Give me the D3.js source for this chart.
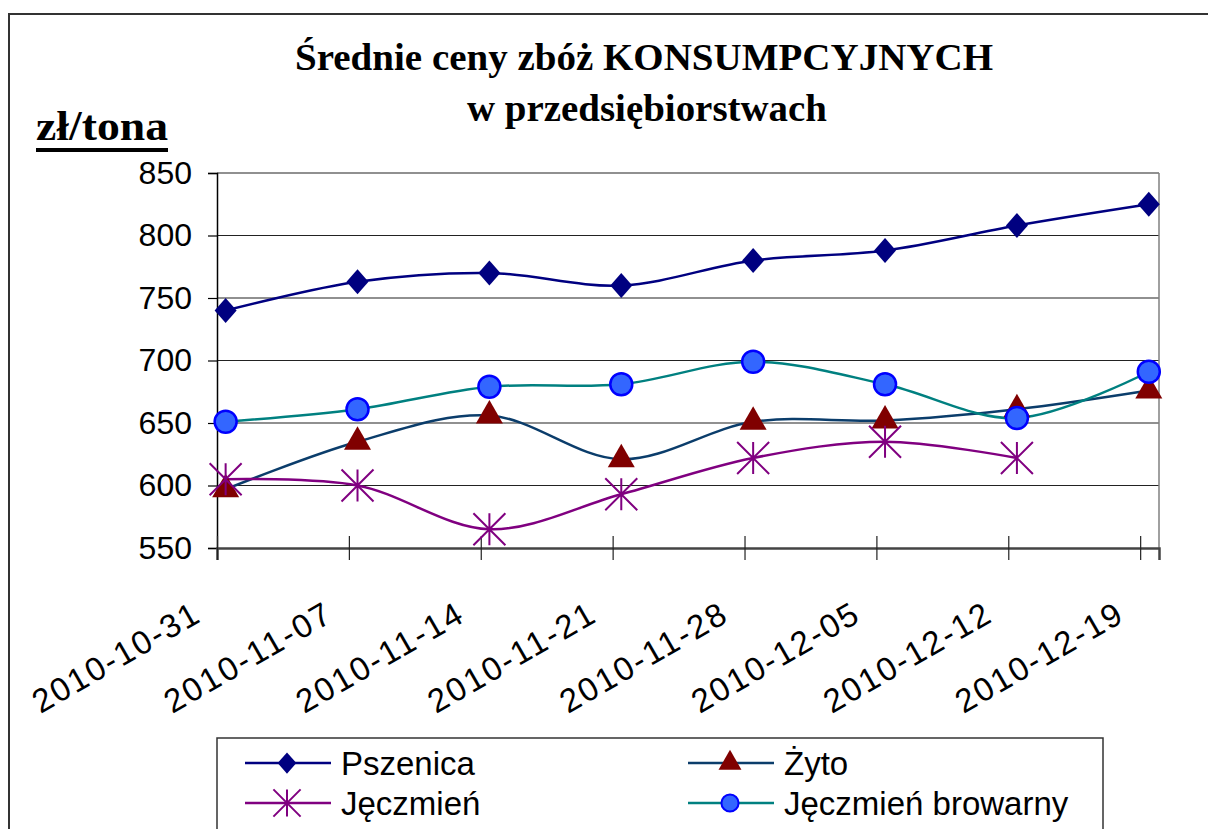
<!DOCTYPE html>
<html>
<head>
<meta charset="utf-8">
<script src="https://cdn.jsdelivr.net/npm/d3@7"></script>
<style>
  body { margin: 0; background: #fff; }
  svg { display: block; }
</style>
</head>
<body>
<div id="chart"></div>
<script>
// data
var dates = ["2010-10-31", "2010-11-07", "2010-11-14", "2010-11-21",
             "2010-11-28", "2010-12-05", "2010-12-12", "2010-12-19"];
var pszenica = [740, 763, 770, 760, 780, 788, 808, 825];
var zyto = [597, 635, 656, 621, 651, 652, 661, 676];
var jeczmien = [605, 600, 565, 593, 622, 635, 622, null];
var jeczmienBrowarny = [651, 661, 679, 681, 699, 681, 654, 691];
var yTicks = [550, 600, 650, 700, 750, 800, 850];
var seriesNames = ["Pszenica", "Żyto", "Jęczmień", "Jęczmień browarny"];

var width = 1208, height = 829;
var plot = {left: 217, right: 1159, top: 173, bottom: 548};

var parse = d3.timeParse("%Y-%m-%d");
var fmt = d3.timeFormat("%Y-%m-%d");
var tickDates = dates.map(parse);
// points sit a little right of the week ticks, like in the original
var pointShiftHours = 11;

var xScale = d3.scaleTime()
    .domain([parse("2010-10-31"), parse("2010-12-20")])
    .range([plot.left, plot.right]);
var yScale = d3.scaleLinear().domain([550, 850]).range([plot.bottom, plot.top]);

var series = [
    {name: seriesNames[0], values: pszenica, line: "#000080", marker: "diamond", fill: "#000080", stroke: "none"},
    {name: seriesNames[1], values: zyto, line: "#0b3d6b", marker: "triangle", fill: "#800000", stroke: "none"},
    {name: seriesNames[2], values: jeczmien, line: "#800080", marker: "star", fill: "none", stroke: "#800080"},
    {name: seriesNames[3], values: jeczmienBrowarny, line: "#008080", marker: "circle", fill: "#3366ff", stroke: "#0000ff"}
];

function markerPath(type, s) {
    // s = scale factor, 1 for plot markers
    var p = d3.path();
    if (type === "diamond") {
        var w = 11 * s, h = 12.5 * s;
        p.moveTo(0, -h); p.lineTo(w, 0); p.lineTo(0, h); p.lineTo(-w, 0); p.closePath();
    } else if (type === "triangle") {
        var hw = 13.5 * s;
        p.moveTo(0, -15.5 * s); p.lineTo(hw, 8 * s); p.lineTo(-hw, 8 * s); p.closePath();
    } else if (type === "star") {
        var r = 16 * s;
        p.moveTo(0, -r); p.lineTo(0, r);
        p.moveTo(-r, -r); p.lineTo(r, r);
        p.moveTo(r, -r); p.lineTo(-r, r);
    } else if (type === "circle") {
        p.arc(0, 0, 11 * s, 0, 2 * Math.PI);
    }
    return p.toString();
}

var svg = d3.select("#chart").append("svg")
    .attr("width", width)
    .attr("height", height);

svg.append("rect").attr("width", width).attr("height", height).attr("fill", "#fff");

// outer chart border (cut off at right and bottom)
svg.append("rect")
    .attr("x", 9).attr("y", 14)
    .attr("width", width + 20).attr("height", height + 20)
    .attr("fill", "none").attr("stroke", "#333").attr("stroke-width", 2);

// title
var title = svg.append("g")
    .attr("font-family", "'Liberation Serif', 'Times New Roman', serif")
    .attr("font-weight", "bold")
    .attr("font-size", 37)
    .attr("fill", "#000");
title.append("text")
    .attr("x", 295).attr("y", 70)
    .attr("textLength", 698).attr("lengthAdjust", "spacingAndGlyphs")
    .text("Średnie ceny zbóż KONSUMPCYJNYCH");
title.append("text")
    .attr("x", 467).attr("y", 121)
    .attr("textLength", 360).attr("lengthAdjust", "spacingAndGlyphs")
    .text("w przedsiębiorstwach");

// unit label
svg.append("text")
    .attr("x", 36).attr("y", 140)
    .attr("font-family", "'Liberation Serif', 'Times New Roman', serif")
    .attr("font-weight", "bold")
    .attr("font-size", 42)
    .attr("textLength", 132).attr("lengthAdjust", "spacingAndGlyphs")
    .text("zł/tona");
svg.append("rect")
    .attr("x", 36).attr("y", 148).attr("width", 132).attr("height", 4)
    .attr("fill", "#000");

// gridlines
svg.append("g")
    .selectAll("line")
    .data(yTicks.filter(function(d) { return d > 550; }))
    .join("line")
    .attr("x1", plot.left).attr("x2", plot.right)
    .attr("y1", function(d) { return yScale(d); })
    .attr("y2", function(d) { return yScale(d); })
    .attr("stroke", "#222").attr("stroke-width", 1.2);

// plot area right border
svg.append("line")
    .attr("x1", plot.right).attr("x2", plot.right)
    .attr("y1", plot.top).attr("y2", plot.bottom)
    .attr("stroke", "#808080").attr("stroke-width", 1.5);

// y axis
var yAxis = d3.axisLeft(yScale).tickValues(yTicks).tickSize(9).tickPadding(16);
var yAxisPlot = svg.append("g")
    .attr("class", "axis axis--y")
    .attr("transform", "translate(" + plot.left + ",0)")
    .call(yAxis);
yAxisPlot.select(".domain").attr("stroke", "#000").attr("stroke-width", 1.5);
yAxisPlot.selectAll(".tick line").attr("stroke", "#000").attr("stroke-width", 1.2);
yAxisPlot.selectAll(".tick text")
    .attr("font-family", "'Liberation Sans', Arial, sans-serif")
    .attr("font-size", 32)
    .attr("fill", "#000");

// x axis
var xAxis = d3.axisBottom(xScale).tickValues(tickDates).tickSize(12).tickFormat(fmt);
var xAxisPlot = svg.append("g")
    .attr("class", "axis axis--x")
    .attr("transform", "translate(0," + plot.bottom + ")")
    .call(xAxis);
xAxisPlot.select(".domain").attr("stroke", "#444").attr("stroke-width", 2.5);
xAxisPlot.selectAll(".tick line")
    .attr("y1", -12)
    .attr("stroke", "#222").attr("stroke-width", 1.2);
xAxisPlot.selectAll(".tick text")
    .attr("font-family", "'Liberation Sans', Arial, sans-serif")
    .attr("font-size", 33)
    .attr("fill", "#000")
    .attr("text-anchor", "end")
    .attr("textLength", 186).attr("lengthAdjust", "spacing")
    .attr("y", 0).attr("dy", 0)
    .attr("transform", "translate(-16,73) rotate(-30)");

// series
var pts = function(s) {
    return s.values.map(function(v, i) {
        return {x: d3.timeHour.offset(tickDates[i], pointShiftHours), y: v};
    });
};
var line = d3.line()
    .defined(function(d) { return d.y != null; })
    .x(function(d) { return xScale(d.x); })
    .y(function(d) { return yScale(d.y); })
    .curve(d3.curveCatmullRom.alpha(0.5));

var seriesG = svg.append("g");
series.forEach(function(s) {
    seriesG.append("path")
        .datum(pts(s))
        .attr("d", line)
        .attr("fill", "none")
        .attr("stroke", s.line)
        .attr("stroke-width", 2.5);
});
series.forEach(function(s) {
    seriesG.append("g")
        .selectAll("path")
        .data(pts(s).filter(function(d) { return d.y != null; }))
        .join("path")
        .attr("transform", function(d) { return "translate(" + xScale(d.x) + "," + yScale(d.y) + ")"; })
        .attr("d", markerPath(s.marker, 1))
        .attr("fill", s.fill)
        .attr("stroke", s.stroke)
        .attr("stroke-width", s.marker === "star" ? 2 : 2.5);
});

// legend
var legend = svg.append("g");
legend.append("rect")
    .attr("x", 217).attr("y", 738)
    .attr("width", 886).attr("height", 120)
    .attr("fill", "#fff").attr("stroke", "#333").attr("stroke-width", 1.5);

var legendPos = [[245, 763], [688, 763], [245, 803], [688, 803]];
series.forEach(function(s, i) {
    var g = legend.append("g")
        .attr("transform", "translate(" + legendPos[i][0] + "," + legendPos[i][1] + ")");
    g.append("line")
        .attr("x1", 0).attr("x2", 86)
        .attr("stroke", s.line).attr("stroke-width", 2.5);
    g.append("path")
        .attr("transform", "translate(42,0)")
        .attr("d", markerPath(s.marker, s.marker === "circle" ? 0.78 : 0.85))
        .attr("fill", s.fill)
        .attr("stroke", s.stroke)
        .attr("stroke-width", 2);
    g.append("text")
        .attr("x", 96).attr("y", 12)
        .attr("font-family", "'Liberation Sans', Arial, sans-serif")
        .attr("font-size", 33)
        .attr("fill", "#000")
        .text(s.name);
});
</script>
</body>
</html>
